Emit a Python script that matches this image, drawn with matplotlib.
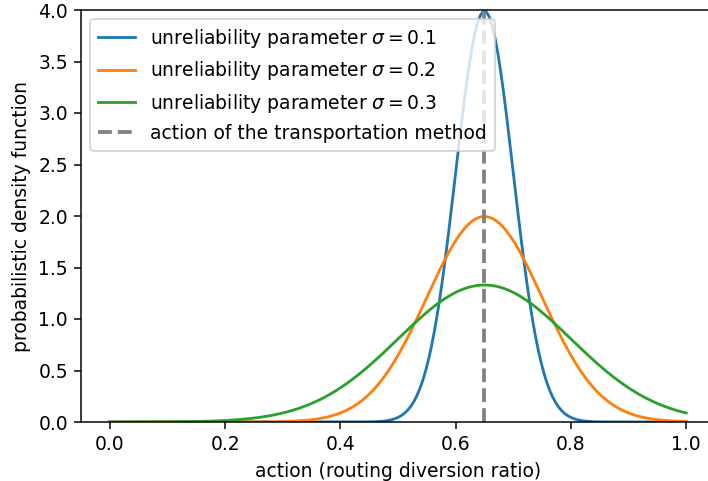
import numpy as np
import matplotlib
matplotlib.use("Agg")
import matplotlib.pyplot as plt

# values: mean action and unreliability parameters
action_mean = 0.65
sigmas = [0.1, 0.2, 0.3]
x_start, x_end, n_points = 0.0, 1.0, 200

x = np.linspace(x_start, x_end, n_points)

dpi = 135
fig = plt.figure(figsize=(708 / dpi, 481 / dpi), dpi=dpi)
ax = fig.add_axes([81 / 708, 1 - 422 / 481, 634 / 708, 412 / 481])

for s in sigmas:
    pdf = np.exp(-2 * ((x - action_mean) / s) ** 2) / (s * np.sqrt(2 * np.pi))
    ax.plot(x, pdf, label=r"unreliability parameter $\sigma = $" + str(s))

ax.axvline(action_mean, color="gray", ls="--", lw=2, label="action of the transportation method")

ax.set_xlim(-0.05, 1.05)
ax.set_ylim(0, 4.0)
ax.set_xlabel("action (routing diversion ratio)")
ax.set_ylabel("probabilistic density function")
ax.legend(loc="upper left")

fig.savefig("out.png", dpi=dpi)
